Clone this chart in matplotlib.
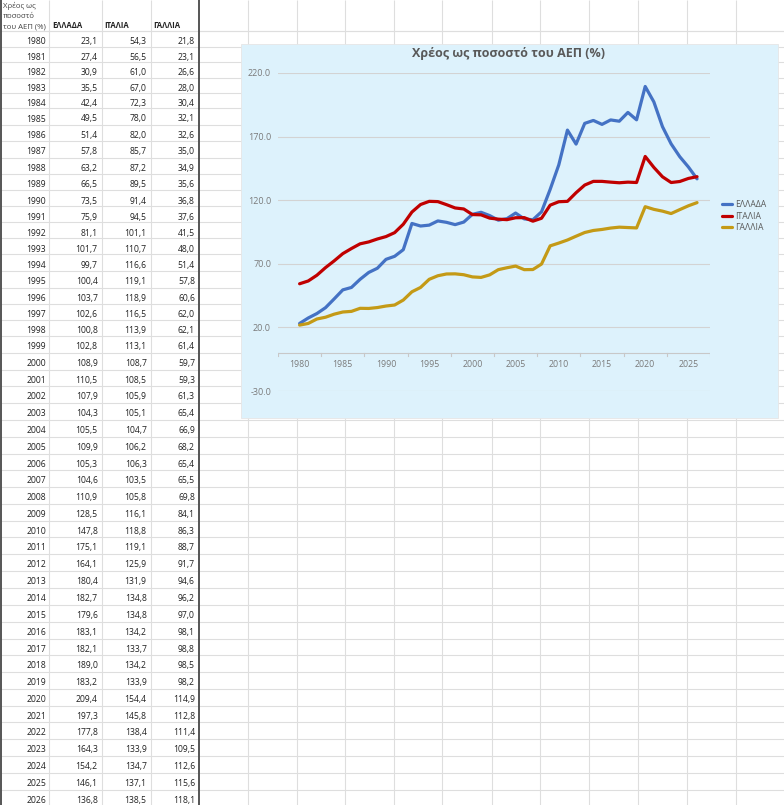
import numpy as np
import matplotlib.pyplot as plt
from matplotlib.patches import Rectangle

plt.rcParams['font.family'] = ['Open Sans', 'DejaVu Sans']

# data from the sheet
years = list(range(1980, 2027))
greece = [23.1, 27.4, 30.9, 35.5, 42.4, 49.5, 51.4, 57.8, 63.2, 66.5,
          73.5, 75.9, 81.1, 101.7, 99.7, 100.4, 103.7, 102.6, 100.8, 102.8,
          108.9, 110.5, 107.9, 104.3, 105.5, 109.9, 105.3, 104.6, 110.9, 128.5,
          147.8, 175.1, 164.1, 180.4, 182.7, 179.6, 183.1, 182.1, 189.0, 183.2,
          209.4, 197.3, 177.8, 164.3, 154.2, 146.1, 136.8]
italy = [54.3, 56.5, 61.0, 67.0, 72.3, 78.0, 82.0, 85.7, 87.2, 89.5,
         91.4, 94.5, 101.1, 110.7, 116.6, 119.1, 118.9, 116.5, 113.9, 113.1,
         108.7, 108.5, 105.9, 105.1, 104.7, 106.2, 106.3, 103.5, 105.8, 116.1,
         118.8, 119.1, 125.9, 131.9, 134.8, 134.8, 134.2, 133.7, 134.2, 133.9,
         154.4, 145.8, 138.4, 133.9, 134.7, 137.1, 138.5]
france = [21.8, 23.1, 26.6, 28.0, 30.4, 32.1, 32.6, 35.0, 34.9, 35.6,
          36.8, 37.6, 41.5, 48.0, 51.4, 57.8, 60.6, 62.0, 62.1, 61.4,
          59.7, 59.3, 61.3, 65.4, 66.9, 68.2, 65.4, 65.5, 69.8, 84.1,
          86.3, 88.7, 91.7, 94.6, 96.2, 97.0, 98.1, 98.8, 98.5, 98.2,
          114.9, 112.8, 111.4, 109.5, 112.6, 115.6, 118.1]
countries = ['ΕΛΛΑΔΑ', 'ΙΤΑΛΙΑ', 'ΓΑΛΛΙΑ']
colors = ['#4472C4', '#C00000', '#C49A16']
title = 'Χρέος ως ποσοστό του ΑΕΠ (%)'
yticks = [-30, 20, 70, 120, 170, 220]
xlabels = list(range(1980, 2026, 5))

W, H = 784, 805
fig = plt.figure(figsize=(W / 100, H / 100), dpi=100)
bg = fig.add_axes([0, 0, 1, 1])
bg.set_xlim(0, W)
bg.set_ylim(H, 0)
bg.axis('off')

# row text positions (px) - the screenshot rows are not perfectly even
anc_i = [0, 5, 10, 14, 15, 20, 25, 30, 31, 35, 40, 46]
anc_y = [41.7, 119, 201, 265, 281.7, 363.3, 447.3, 531, 547.7, 615.7, 699.3, 800]
row_y = np.interp(np.arange(len(years)), anc_i, anc_y)

grid_c = '#DEDEDE'
# horizontal cell lines
bg.hlines([31] + list(row_y - 10.5), 0, W, color=grid_c, lw=0.8)
# vertical cell lines
col_x = [49, 102, 151] + [248, 297, 345, 394, 442, 492, 540, 589, 638, 687, 736]
bg.vlines(col_x, 0, H, color=grid_c, lw=0.8)
bg.vlines([199], 0, H, color='#555555', lw=1.4)
bg.vlines([0.7], 0, H, color='#555555', lw=1.4)

# header
tc = '#222222'
for i, s in enumerate(['Χρέος ως', 'ποσοστό', 'του ΑΕΠ (%)']):
    bg.text(3, 5.5 + i * 10.5, s, fontsize=5.6, color='#444444', va='center', ha='left')
for x, name in zip([52, 104, 153], countries):
    bg.text(x, 25.5, name, fontsize=5.6, fontweight='bold', color=tc, va='center', ha='left')

for y, yr, g, it, fr in zip(row_y, years, greece, italy, france):
    bg.text(46, y, str(yr), fontsize=6.2, color=tc, va='center', ha='right')
    for x, v in zip([97.7, 146.7, 195], [g, it, fr]):
        bg.text(x, y, f'{v:.1f}'.replace('.', ','), fontsize=6.2, color=tc,
                va='center', ha='right')

# chart area
bg.add_patch(Rectangle((241, 44), 778 - 241, 418 - 44, facecolor='#DDF2FC',
                       edgecolor='#E6E6E6', lw=0.6, zorder=3))
bg.text(509, 54, title, fontsize=9, fontweight='bold', color='#595959',
        ha='center', va='center', zorder=4)

pl, pr, pt, pb = 278, 710, 73, 391
ax = fig.add_axes([pl / W, 1 - pb / H, (pr - pl) / W, (pb - pt) / H])
ax.patch.set_visible(False)
ax.set_xlim(1977.5, 2027.5)
ax.set_ylim(-30, 220)
for s in ax.spines.values():
    s.set_visible(False)
for yv in yticks:
    ax.axhline(yv, color='#D3D3D3', lw=0.8, zorder=1)
ax.axhline(0, color='#C8C8C8', lw=0.8, zorder=1)
for xt in np.arange(1977.5, 2028, 5):
    ax.plot([xt, xt], [0, -2.5], color='#C8C8C8', lw=0.8, zorder=1)

ax.set_yticks(yticks)
ax.set_yticklabels([f'{v:.1f}' for v in yticks])
ax.tick_params(axis='y', length=0, pad=5, labelsize=6.5, labelcolor='#7A7A7A')
ax.set_xticks([])
for yr in xlabels:
    ax.text(yr, -9, str(yr), fontsize=6.3, color='#7A7A7A', ha='center', va='center')

for vals, c, name in zip([greece, italy, france], colors, countries):
    ax.plot(years, vals, color=c, lw=2.3, label=name, solid_capstyle='round', zorder=3)

leg = ax.legend(loc='center left', bbox_to_anchor=(1.02, 0.55), frameon=False,
                fontsize=6.2, handlelength=1.2, handletextpad=0.3, labelspacing=0.25,
                borderaxespad=0)
for t in leg.get_texts():
    t.set_color('#595959')

fig.savefig('out.png', dpi=100)
